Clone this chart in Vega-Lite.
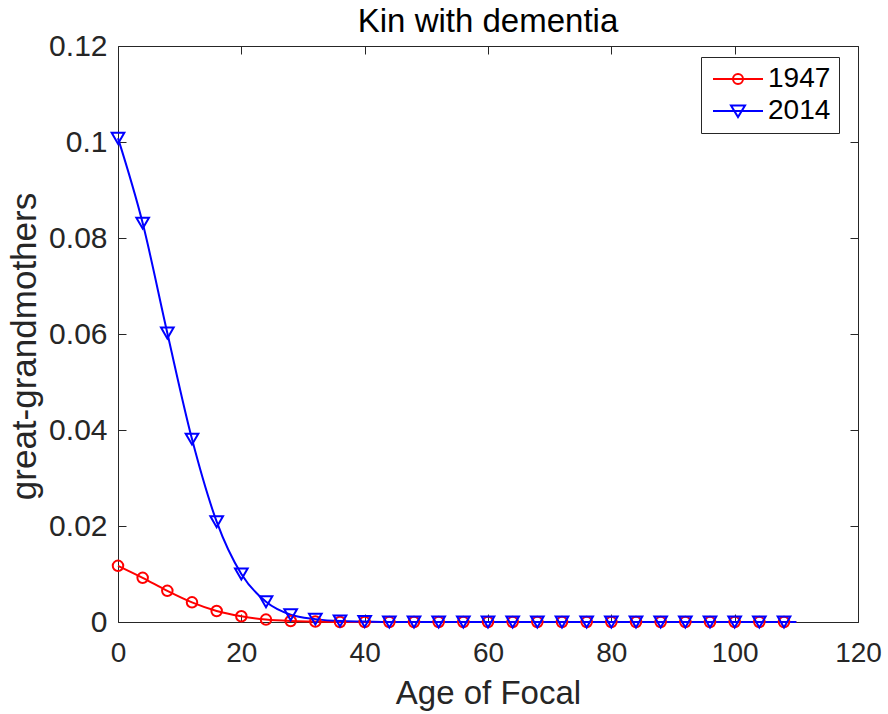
{
  "$schema": "https://vega.github.io/schema/vega-lite/v6.json",
  "autosize": "none",
  "width": 740,
  "height": 576,
  "padding": {"left": 118, "top": 46, "right": 30, "bottom": 92},
  "background": "white",
  "config": {
    "font": "Liberation Sans",
    "view": {"stroke": null},
    "axis": {"grid": false, "domainColor": "#262626", "tickColor": "#262626", "labelColor": "#262626", "titleColor": "#262626", "labelFont": "Liberation Sans", "titleFont": "Liberation Sans", "titleFontWeight": "normal", "labelFontSize": 28, "titleFontSize": 33, "tickSize": -8, "domainWidth": 1, "tickWidth": 1, "labelFlush": false}
  },
  "title": {"text": "Kin with dementia", "fontSize": 33, "fontWeight": "normal", "color": "black", "font": "Liberation Sans", "offset": -8},
  "data": {"values": [
    {"age": 0, "series": "1947", "value": 0.0117},
    {"age": 4, "series": "1947", "value": 0.0092},
    {"age": 8, "series": "1947", "value": 0.0065},
    {"age": 12, "series": "1947", "value": 0.0041},
    {"age": 16, "series": "1947", "value": 0.0023},
    {"age": 20, "series": "1947", "value": 0.0012},
    {"age": 24, "series": "1947", "value": 0.0005},
    {"age": 28, "series": "1947", "value": 0.0002},
    {"age": 32, "series": "1947", "value": 0.0001},
    {"age": 36, "series": "1947", "value": 0.0},
    {"age": 40, "series": "1947", "value": 0.0},
    {"age": 44, "series": "1947", "value": 0.0},
    {"age": 48, "series": "1947", "value": 0.0},
    {"age": 52, "series": "1947", "value": 0.0},
    {"age": 56, "series": "1947", "value": 0.0},
    {"age": 60, "series": "1947", "value": 0.0},
    {"age": 64, "series": "1947", "value": 0.0},
    {"age": 68, "series": "1947", "value": 0.0},
    {"age": 72, "series": "1947", "value": 0.0},
    {"age": 76, "series": "1947", "value": 0.0},
    {"age": 80, "series": "1947", "value": 0.0},
    {"age": 84, "series": "1947", "value": 0.0},
    {"age": 88, "series": "1947", "value": 0.0},
    {"age": 92, "series": "1947", "value": 0.0},
    {"age": 96, "series": "1947", "value": 0.0},
    {"age": 100, "series": "1947", "value": 0.0},
    {"age": 104, "series": "1947", "value": 0.0},
    {"age": 108, "series": "1947", "value": 0.0},
    {"age": 110, "series": "1947", "value": 0.0},
    {"age": 0, "series": "2014", "value": 0.1008},
    {"age": 4, "series": "2014", "value": 0.0831},
    {"age": 8, "series": "2014", "value": 0.0602},
    {"age": 12, "series": "2014", "value": 0.0381},
    {"age": 16, "series": "2014", "value": 0.0209},
    {"age": 20, "series": "2014", "value": 0.0100},
    {"age": 24, "series": "2014", "value": 0.0042},
    {"age": 28, "series": "2014", "value": 0.0015},
    {"age": 32, "series": "2014", "value": 0.0006},
    {"age": 36, "series": "2014", "value": 0.0002},
    {"age": 40, "series": "2014", "value": 0.0001},
    {"age": 44, "series": "2014", "value": 0.0},
    {"age": 48, "series": "2014", "value": 0.0},
    {"age": 52, "series": "2014", "value": 0.0},
    {"age": 56, "series": "2014", "value": 0.0},
    {"age": 60, "series": "2014", "value": 0.0},
    {"age": 64, "series": "2014", "value": 0.0},
    {"age": 68, "series": "2014", "value": 0.0},
    {"age": 72, "series": "2014", "value": 0.0},
    {"age": 76, "series": "2014", "value": 0.0},
    {"age": 80, "series": "2014", "value": 0.0},
    {"age": 84, "series": "2014", "value": 0.0},
    {"age": 88, "series": "2014", "value": 0.0},
    {"age": 92, "series": "2014", "value": 0.0},
    {"age": 96, "series": "2014", "value": 0.0},
    {"age": 100, "series": "2014", "value": 0.0},
    {"age": 104, "series": "2014", "value": 0.0},
    {"age": 108, "series": "2014", "value": 0.0},
    {"age": 110, "series": "2014", "value": 0.0}
  ]},
  "layer": [
    {
      "mark": {"type": "line", "strokeWidth": 2, "interpolate": "monotone"},
      "encoding": {
        "x": {"field": "age", "type": "quantitative", "scale": {"domain": [0, 120], "nice": false},
              "axis": {"orient": "bottom", "values": [0, 20, 40, 60, 80, 100, 120], "title": "Age of Focal", "labelPadding": 25, "titlePadding": 10}},
        "y": {"field": "value", "type": "quantitative", "scale": {"domain": [0, 0.12], "nice": false},
              "axis": {"orient": "left", "values": [0, 0.02, 0.04, 0.06, 0.08, 0.1, 0.12], "format": ".2~f", "title": "great-grandmothers", "titleFontSize": 35, "labelFontSize": 30, "labelPadding": 19, "titlePadding": 6, "titleY": 300}},
        "color": {"field": "series", "type": "nominal", "scale": {"domain": ["1947", "2014"], "range": ["#ff0000", "#0000ff"]},
          "legend": {"orient": "none", "legendX": 583, "legendY": 11, "title": null, "strokeColor": "#262626", "fillColor": "white", "padding": 8, "labelFontSize": 28, "labelColor": "black", "labelFont": "Liberation Sans", "symbolSize": 100, "symbolStrokeWidth": 2, "labelOffset": 31, "rowPadding": 4,
            "encode": {"symbols": {"update": {"shape": {"signal": "datum.value === '1947' ? 'M-2,0L8,0M4,0A1,1,0,1,1,2,0A1,1,0,1,1,4,0' : 'M-2,0L8,0M1.6,-1.1L4.4,-1.1L3,1.2Z'"}, "fill": {"value": "transparent"}}}}}}
      }
    },
    {
      "transform": [{"filter": "datum.age <= 108 && datum.series === '1947'"}],
      "mark": {"type": "point", "filled": false, "strokeWidth": 2, "opacity": 1, "shape": "circle", "size": 110},
      "encoding": {
        "x": {"field": "age", "type": "quantitative", "axis": {"orient": "top", "values": [0, 20, 40, 60, 80, 100, 120], "labels": false, "title": null}},
        "y": {"field": "value", "type": "quantitative", "axis": {"orient": "right", "values": [0, 0.02, 0.04, 0.06, 0.08, 0.1, 0.12], "labels": false, "title": null}},
        "color": {"field": "series", "type": "nominal"}
      }
    },
    {
      "transform": [{"filter": "datum.age <= 108 && datum.series === '2014'"}],
      "mark": {"type": "point", "filled": false, "strokeWidth": 2, "opacity": 1, "shape": "triangle-down", "size": 160},
      "encoding": {
        "x": {"field": "age", "type": "quantitative", "axis": null},
        "y": {"field": "value", "type": "quantitative", "axis": null},
        "color": {"field": "series", "type": "nominal"}
      }
    }
  ],
  "resolve": {"axis": {"x": "independent", "y": "independent"}}
}
